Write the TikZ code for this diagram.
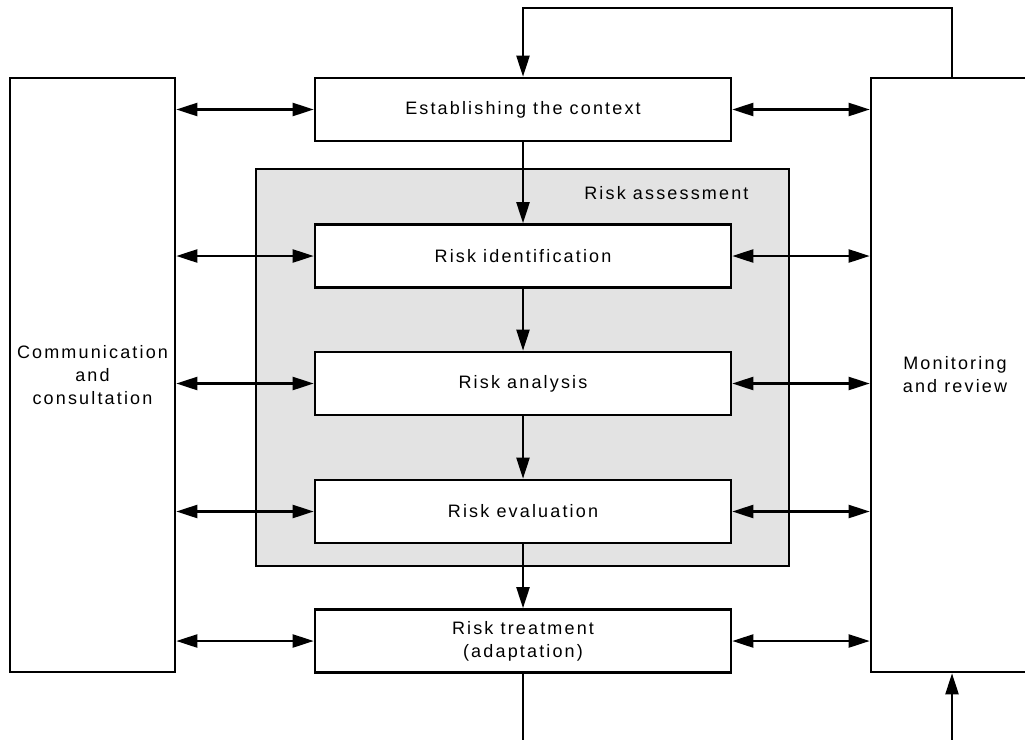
\documentclass[tikz,border=0pt]{standalone}
\usepackage{fontspec}
\setmainfont[LetterSpace=12]{Liberation Sans}
\usetikzlibrary{arrows.meta}

\tikzset{
    box/.style={draw, line width=2.6pt, fill=white, inner sep=0pt,
        font=\fontsize{18}{23}\selectfont, align=center},
    stage/.style={box, minimum width=416, minimum height=63},
    side/.style={box, minimum height=594},
    link/.style={line width=2.2pt, -{Triangle[length=21pt,width=13pt]}},
    both/.style={line width=2.2pt, {Triangle[length=21pt,width=13pt]}-{Triangle[length=21pt,width=13pt]}}
}

\begin{document}
\begin{tikzpicture}[x=1pt,y=-1pt]
    \useasboundingbox (0,0) rectangle (1025,739);

    % risk assessment frame
    \node[draw, line width=2.6pt, fill=gray!22, minimum width=533, minimum height=397, inner sep=0pt]
        (assess) at (522.5,367.5) {};
    \node[font=\fontsize{18}{23}\selectfont, anchor=east] (assesslbl) at (752,193) {Risk assessment};

    % side boxes
    \node[side, minimum width=165] (comm) at (92.5,375) {Communication\\and\\consultation};
    \node[side, minimum width=160] (mon) at (951,375) {\hspace*{8pt}Monitoring\\\hspace*{8pt}and review};

    % process steps
    \node[stage] (ctx) at (523,109.5) {Establishing the context};
    \node[stage] (ident) at (523,256) {Risk identification};
    \node[stage] (anal) at (523,383.5) {Risk analysis};
    \node[stage] (eval) at (523,511.5) {Risk evaluation};
    \node[stage] (treat) at (523,641) {Risk treatment\\(adaptation)};

    % flow down
    \draw[link] (ctx) -- (ident);
    \draw[link] (ident) -- (anal);
    \draw[link] (anal) -- (eval);
    \draw[link] (eval) -- (treat);

    % communication and monitoring
    \foreach \s in {ctx,ident,anal,eval,treat} {
        \draw[both] (comm.east |- \s) -- (\s.west);
        \draw[both] (\s.east) -- (mon.west |- \s);
    }

    % feedback loop
    \coordinate (top) at (952,8);
    \coordinate (bot) at (952,745);
    \draw[link] (mon.north -| top) -- (top) -| (ctx.north);
    \draw[line width=2.2pt] (treat.south) -- (treat.south |- bot);
    \draw[link] (bot) -- (mon.south -| bot);
\end{tikzpicture}
\end{document}
